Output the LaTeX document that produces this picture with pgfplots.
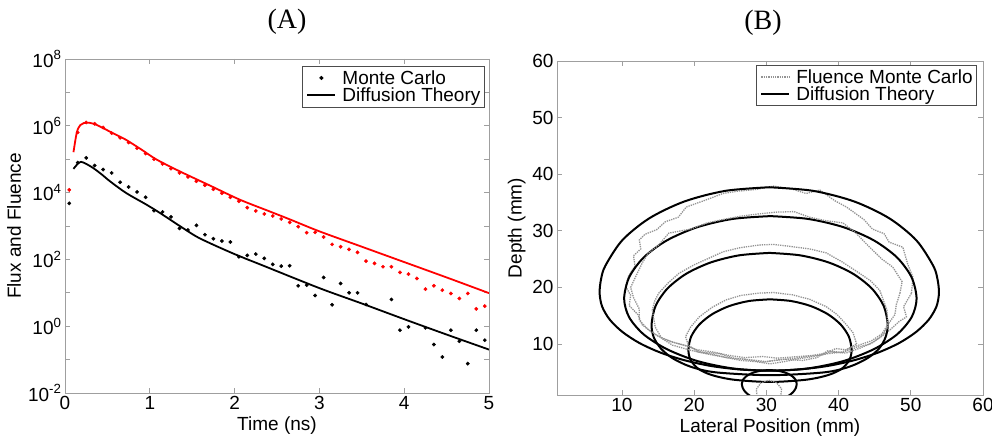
\documentclass[border=0pt]{standalone}
\usepackage{fontspec}
\setmainfont{Liberation Sans}
\newfontfamily\ttlfont{Liberation Serif}
\usepackage{pgfplots}
\pgfplotsset{compat=1.18}

\newcommand{\lblsize}{\fontsize{19bp}{22bp}\selectfont}

\pgfplotsset{
  mlab/.style={
    scale only axis,
    axis line style={gray!75, line width=0.8bp},
    every tick/.style={gray!75, line width=0.8bp},
    major tick length=5bp,
    minor tick length=5bp,
    tick align=inside,
    /pgf/number format/assume math mode=true,
    tick label style={font=\lblsize, black},
    label style={font=\lblsize},
    legend style={font=\lblsize, draw=black!70, line width=0.7bp, inner sep=2bp,
      row sep=-2bp},
    legend cell align=left,
    legend image code/.code={
      \path[draw=none, fill=none] (-3bp,0bp) -- (33bp,0bp);
      \draw[mark repeat=2, mark phase=2, #1]
        plot coordinates {(0bp,0bp) (14bp,0bp) (28bp,0bp)};},
  },
  dots/.style={only marks, mark=*, mark size=1.7bp},
  cont/.style={black, line width=2bp, smooth},
  mc/.style={gray!85, densely dotted, line width=1.3bp},
}

\begin{document}
\begin{tikzpicture}
\useasboundingbox (0,0) rectangle (992bp,440bp);

\node[font=\ttlfont\fontsize{28bp}{30bp}\selectfont] at (287bp,418bp) {(A)};
\node[font=\ttlfont\fontsize{28bp}{30bp}\selectfont] at (763bp,417bp) {(B)};

% ---------- (A) flux / fluence vs time, y in log10 units ----------
\begin{axis}[mlab,
  at={(65bp,47bp)}, anchor=south west,
  width=424bp, height=334bp,
  xmin=0, xmax=5, ymin=-2, ymax=8,
  xtick={0,1,2,3,4,5},
  ytick={-2,-1,0,1,2,3,4,5,6,7,8},
  yticklabels={10\textsuperscript{-2},{},10\textsuperscript{0},{},10\textsuperscript{2},{},10\textsuperscript{4},{},10\textsuperscript{6},{},10\textsuperscript{8}},
  xlabel={Time (ns)},
  ylabel={Flux and Fluence},
  legend style={at={(0.99,0.979)}, anchor=north east},
]
% flux, Monte Carlo
\addplot[dots, black] coordinates {
(0.05,3.68)(0.15,4.90)(0.25,5.04)(0.35,4.81)(0.45,4.69)(0.55,4.59)
(0.65,4.31)(0.75,4.17)(0.85,4.02)(0.95,3.86)(1.05,3.46)(1.15,3.42)
(1.25,3.27)(1.35,2.93)(1.45,2.88)(1.55,3.02)(1.65,2.74)(1.75,2.62)
(1.85,2.55)(1.95,2.52)(2.05,2.08)(2.15,2.12)(2.25,2.16)(2.35,2.03)
(2.45,1.85)(2.55,1.80)(2.65,1.81)(2.75,1.21)(2.85,1.23)(2.95,0.92)
(3.05,1.46)(3.15,0.64)(3.25,1.28)(3.35,1.00)(3.45,1.00)(3.55,0.65)
(3.85,0.80)(3.95,-0.12)(4.05,-0.02)(4.25,-0.05)(4.35,-0.55)(4.45,-0.92)
(4.55,-0.12)(4.65,-0.45)(4.75,-1.12)(4.85,-0.12)(4.95,-0.42)
};
\addlegendentry{Monte Carlo}
% flux, diffusion theory
\addplot[black, line width=1.8bp, smooth] coordinates {
(0.10,4.71)(0.15,4.86)(0.19,4.92)(0.25,4.86)(0.33,4.74)(0.43,4.55)
(0.53,4.34)(0.72,3.99)(0.96,3.64)(1.12,3.39)(1.39,2.94)(1.59,2.63)
(1.98,2.18)(2.37,1.78)(3.00,1.14)(3.50,0.68)(4.00,0.21)(4.50,-0.25)
(5.00,-0.70)
};
\addlegendentry{Diffusion Theory}
% fluence, diffusion theory
\addplot[red, line width=1.8bp, smooth, forget plot] coordinates {
(0.10,5.21)(0.14,5.81)(0.18,6.02)(0.22,6.08)(0.29,6.09)(0.37,6.03)
(0.45,5.93)(0.58,5.76)(0.72,5.58)(0.90,5.29)(1.08,4.99)(1.35,4.64)
(1.71,4.21)(2.06,3.79)(2.40,3.45)(2.65,3.20)(3.00,2.84)(3.50,2.38)
(4.00,1.92)(4.50,1.46)(5.00,0.99)
};
% fluence, Monte Carlo
\addplot[dots, red, forget plot] coordinates {
(0.05,4.08)(0.15,5.80)(0.25,6.10)(0.35,6.06)(0.45,5.95)(0.55,5.78)
(0.65,5.64)(0.75,5.50)(0.85,5.33)(0.95,5.17)(1.05,5.00)(1.15,4.86)
(1.25,4.72)(1.35,4.59)(1.45,4.47)(1.55,4.34)(1.65,4.22)(1.75,4.10)
(1.85,3.98)(1.95,3.86)(2.05,3.74)(2.15,3.55)(2.25,3.45)(2.35,3.36)
(2.45,3.30)(2.55,3.21)(2.65,3.11)(2.75,2.98)(2.85,2.80)(2.95,2.81)
(3.05,2.67)(3.15,2.45)(3.25,2.38)(3.35,2.30)(3.45,2.21)(3.55,1.95)
(3.65,1.88)(3.75,1.78)(3.85,1.78)(3.95,1.61)(4.05,1.56)(4.15,1.43)
(4.25,1.11)(4.35,1.21)(4.45,1.08)(4.55,0.98)(4.65,0.83)(4.75,0.98)
(4.85,0.52)(4.95,0.60)
};
\end{axis}

% ---------- (B) isofluence contours ----------
\begin{axis}[mlab,
  at={(557bp,45bp)}, anchor=south west,
  width=426bp, height=334bp,
  xmin=1, xmax=60, ymin=1, ymax=60,
  xtick={10,20,30,40,50,60},
  ytick={10,20,30,40,50,60},
  xlabel={Lateral Position (mm)},
  ylabel={Depth (mm)},
  legend style={at={(0.986,0.988)}, anchor=north east},
]
\addplot[mc] coordinates {
(50.1,19.0)(50.3,21.8)(49.6,24.0)(48.9,27.1)(47.0,28.0)(46.3,29.5)
(44.7,30.3)(43.5,32.0)(41.1,34.2)(39.5,35.3)(37.4,37.2)(35.5,36.6)
(33.5,37.4)(31.0,37.9)(28.5,37.3)(26.0,37.0)(24.0,36.6)(21.5,35.4)
(18.9,34.2)(17.8,32.4)(16.0,31.6)(14.8,30.2)(13.2,29.4)(12.4,28.4)
(12.6,26.8)(11.6,25.6)(11.8,23.8)(10.9,22.0)(10.5,20.2)(11.2,18.6)
(11.0,16.8)(12.2,15.2)(12.8,13.4)(14.2,12.0)(15.6,11.0)(17.4,10.2)
(19.2,9.6)(21.0,8.6)(23.5,8.3)(25.5,7.5)(28.0,7.2)(30.0,6.9)
(32.5,7.3)(35.0,7.1)(37.0,7.6)(38.5,8.8)(40.5,8.5)(42.5,9.4)
(44.3,10.0)(45.8,11.2)(47.2,12.6)(48.4,14.0)(49.4,14.8)(49.0,16.6)
(50.1,19.0)
};
\addlegendentry{Fluence Monte Carlo}
\addplot[cont] coordinates {
(30.4,37.7)(24.31,37.06)(18.65,35.19)(13.79,32.22)(10.05,28.35)(7.70,23.84)
(7.1,21.45)(6.9,19.0)(7.25,16.62)(8.31,14.31)(10.05,12.15)(12.4,10.19)
(15.29,8.51)(18.65,7.14)(22.36,6.12)(26.31,5.51)(30.4,5.3)(34.49,5.51)
(38.44,6.12)(42.15,7.14)(45.51,8.51)(48.4,10.19)(50.75,12.15)(52.49,14.31)
(53.55,16.62)(53.9,19.0)(53.7,21.45)(53.10,23.84)(50.75,28.35)(47.01,32.22)
(42.15,35.19)(36.49,37.06)(30.4,37.7)
};
\addlegendentry{Diffusion Theory}
\addplot[cont, forget plot] coordinates {
(30.55,32.6)(25.31,32.10)(20.43,30.64)(16.23,28.32)(13.01,25.3)(10.99,21.78)
(10.3,18)(10.99,14.74)(13.01,11.7)(16.23,9.09)(20.43,7.0)(25.31,5.7)
(30.55,5.3)(35.79,5.7)(40.68,7.0)(44.87,9.09)(48.09,11.7)(50.11,14.74)
(50.8,18)(50.11,21.78)(48.09,25.3)(44.87,28.32)(40.68,30.64)(35.79,32.10)
(30.55,32.6)
};
\addplot[cont, forget plot] coordinates {
(30.45,26.1)(26.22,25.67)(22.28,24.41)(18.89,22.41)(16.29,19.8)(14.66,16.76)
(14.1,13.5)(14.4,11.2)(15.4,9.2)(17,7.5)(19.5,6.0)(23,5.0)(30.5,4.5)
(38,5.0)(41.5,6.0)(44,7.5)(45.6,9.2)(46.5,11.2)(46.8,13.5)(46.24,16.76)
(44.61,19.8)(42.01,22.41)(38.63,24.41)(34.68,25.67)(30.45,26.1)
};
\addplot[cont, forget plot] coordinates {
(30.5,17.9)(27.57,17.6)(24.85,16.71)(22.51,15.29)(20.71,13.45)(19.58,11.31)
(19.2,9)(19.5,7.2)(20.6,5.6)(22.5,4.5)(25.5,3.7)(30.5,3.3)(35.5,3.7)
(38.5,4.5)(40.4,5.6)(41.5,7.2)(41.8,9)(41.42,11.31)(40.29,13.45)
(38.49,15.29)(36.15,16.71)(33.43,17.6)(30.5,17.9)
};
\addplot[cont, forget plot] coordinates {
(30.4,5.4)(29.42,5.32)(28.5,5.08)(27.71,4.7)(27.11,4.2)(26.73,3.62)(26.6,3)
(26.73,2.22)(27.11,1.5)(27.71,0.88)(28.5,0.4)(30.4,0)(32.3,0.4)(33.09,0.88)
(33.69,1.5)(34.07,2.22)(34.2,3)(34.07,3.62)(33.69,4.2)(33.09,4.7)(32.3,5.08)
(31.38,5.32)(30.4,5.4)
};
% remaining Monte Carlo contours
\addplot[mc, forget plot] coordinates {
(48.5,19.0)(48.8,21.0)(47.5,23.6)(46.0,25.0)(44.3,27.1)(42.4,29.6)
(40.6,31.4)(38.2,31.8)(36.0,32.4)(33.8,33.4)(31.4,33.3)(29.0,33.0)
(26.5,32.6)(24.0,32.0)(21.8,31.4)(19.5,30.3)(16.5,29.6)(15.0,27.4)
(13.6,26.0)(12.8,24.3)(12.0,22.2)(11.2,20.0)(11.6,18.2)(12.4,16.2)
(12.4,14.2)(13.6,12.6)(15.0,11.4)(16.8,10.4)(18.6,9.8)(20.4,9.0)
(22.6,8.6)(24.8,8.0)(27.0,7.6)(29.5,7.8)(31.5,7.5)(33.5,7.7)
(35.5,7.9)(37.8,8.1)(39.6,9.2)(41.0,9.0)(42.8,9.8)(44.6,10.6)
(46.0,11.8)(46.8,13.4)(47.8,15.2)(48.0,17.0)(48.5,19.0)
};
\addplot[mc, forget plot] coordinates {
(46.8,13)(46.7,16)(45.7,19.5)(44.4,21.2)(42.9,22.5)(40.5,24.5)(38.3,26.1)
(36,26.8)(33.6,27.2)(31,27.6)(29,27.5)(26.3,27.0)(24,26.3)(22.1,25.2)
(20,24)(17.9,22.5)(16.4,20.8)(15.1,19)(14.5,17.5)(14.2,16)(14.6,13)
(15.5,11)(17,9.8)(19.5,8.9)(22,8.2)(24.5,7.6)(27,7.3)(29.5,6.8)(31.5,7.2)
(34,7.5)(36.5,8.0)(39,8.6)(41,8.4)(43,9.3)(44.8,10.3)(46.0,11.5)(46.8,13)
};
\addplot[mc, forget plot] coordinates {
(42.5,10)(42,12)(41.1,13.4)(39.8,15.2)(38.3,16.6)(36,17.9)(33.6,18.7)
(31,19.1)(29,19.0)(26.5,18.6)(24.4,17.8)(22.5,16.5)(20.7,14.8)(19.5,13)
(18.8,11.3)(19.2,9.8)(20.5,8.6)(22.5,8.2)(24.5,7.6)(26.5,7.1)(28.5,6.9)
(30.5,6.5)(32.5,6.9)(34.5,7.4)(36.5,7.8)(38.5,8.3)(40.5,8.6)(42.5,10)
};
\addplot[mc, forget plot] coordinates {
(28.7,0.8)(28.6,2.0)(29.2,3.1)(30.3,3.6)(31.4,3.2)(32.1,2.1)(32.0,0.8)
};
\end{axis}
\end{tikzpicture}
\end{document}
